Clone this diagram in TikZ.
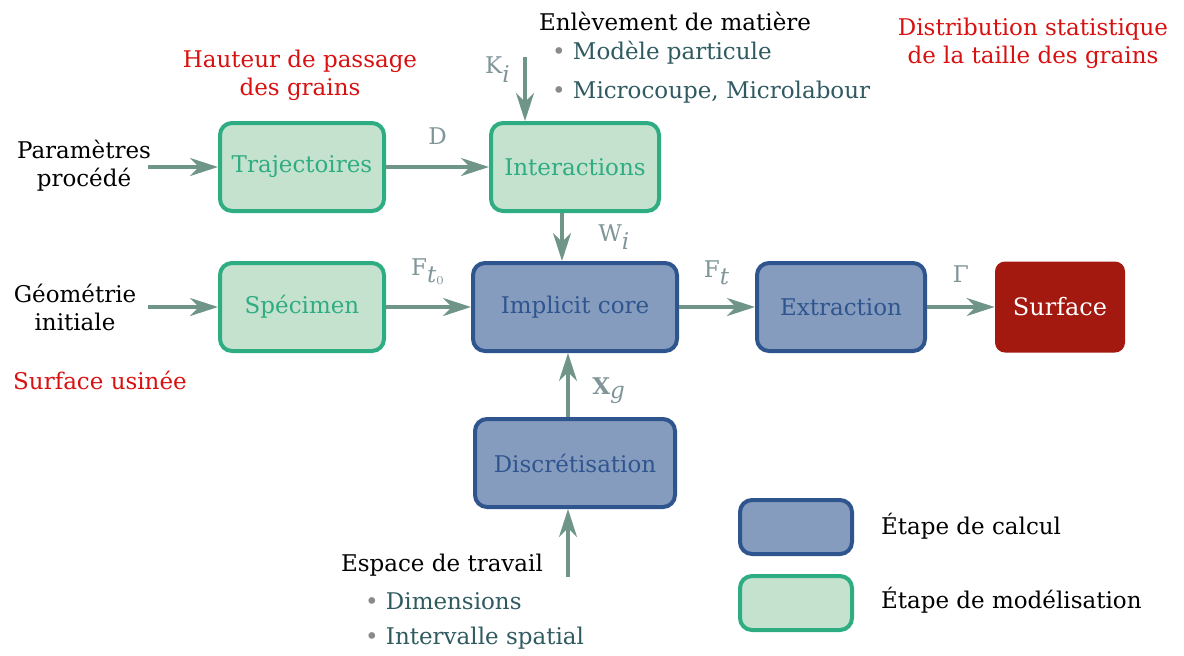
\documentclass[tikz,border=0pt]{standalone}
\usepackage{fontspec}
\setmainfont{DejaVu Serif}
\usetikzlibrary{arrows.meta}

\definecolor{calcfill}{HTML}{869CBF}
\definecolor{calcline}{HTML}{2F558F}
\definecolor{modfill}{HTML}{C5E2CF}
\definecolor{modline}{HTML}{2EAC82}
\definecolor{flowcol}{HTML}{6F9488}
\definecolor{labcol}{HTML}{7F9598}
\definecolor{notecol}{HTML}{D81010}
\definecolor{itemcol}{HTML}{2F5A60}
\definecolor{bulcol}{HTML}{8A8A8A}
\definecolor{surfcol}{HTML}{A3180F}

\newcommand{\itm}[1]{\textcolor{bulcol}{\textbullet}\ \textcolor{itemcol}{#1}}

\begin{document}
\begin{tikzpicture}[x=0.5pt,y=-0.5pt,
    every node/.style={font=\fontsize{11.5}{14}\selectfont},
    calcstep/.style={draw=calcline,fill=calcfill,line width=2pt,rounded corners=6pt,text=calcline,minimum height=44pt},
    modelstep/.style={draw=modline,fill=modfill,line width=2pt,rounded corners=6pt,text=modline,minimum height=44pt,minimum width=82pt},
    result/.style={fill=surfcol,rounded corners=5pt,text=white,minimum height=45.5pt,minimum width=65pt},
    flow/.style={draw=flowcol,line width=1.6pt,-{Stealth[length=14pt,width=9pt,inset=4.5pt]}},
    lab/.style={text=labcol},
    note/.style={text=notecol,align=center}
]
\useasboundingbox (0,0) rectangle (1184,655);

% steps
\node[modelstep] (traj) at (302,167) {Trajectoires};
\node[modelstep,minimum width=84pt] (inter) at (575,167) {Interactions};
\node[modelstep] (spec) at (302,307) {Spécimen};
\node[calcstep,minimum width=102pt] (core) at (575,307) {Implicit core};
\node[calcstep,minimum width=84pt] (extr) at (841,307) {Extraction};
\node[result] (surf) at (1060,307) {\fontsize{12}{14}\selectfont Surface};
\node[calcstep,minimum width=100pt] (discr) at (575,463) {Discrétisation};

% inputs
\node[align=center] (param) at (84,166) {Paramètres\\procédé};
\node[align=center] (geom) at (75,307) {Géométrie\\initiale};
\node (enlev) at (675,21) {Enlèvement de matière};
\node[anchor=west] (itemA) at (545,53) {\itm{Modèle particule}};
\node[anchor=west] (itemB) at (545,92) {\itm{Microcoupe, Microlabour}};
\node[anchor=west] (espace) at (334,565) {Espace de travail};
\node[anchor=west] (itemC) at (358,601) {\itm{Dimensions}};
\node[anchor=west] (itemD) at (358,638) {\itm{Intervalle spatial}};

% notes
\node[note] (hauteur) at (300,75) {Hauteur de passage\\des grains};
\node[note] (distrib) at (1033,43) {Distribution statistique\\de la taille des grains};
\node[note] (usinee) at (100,380) {Surface usinée};

% free ends
\coordinate (parin) at (148,167);
\coordinate (geoin) at (148,307);
\coordinate (kin) at (525,57);
\coordinate (win) at (562,167);
\coordinate (xin) at (568,463);
\coordinate (espin) at (568,577);

% connectors
\draw[flow] (parin) -- (traj);
\draw[flow] (geoin) -- (spec);
\draw[flow] (traj) -- (inter) node[lab,midway,above=7pt] (labD) {D};
\draw[flow] (kin) -- (kin |- inter.north) node[lab,pos=0.2,left=3pt] (labK) {K$_{\textit{i}}$};
\draw[flow] (win |- inter.south) -- (win |- core.north) node[lab,midway,right=14pt] (labW) {W$_{\textit{i}}$};
\draw[flow] (spec) -- (core) node[lab,midway,above=7pt] (labF0) {F$_{\textit{t}_0}$};
\draw[flow] (core) -- (extr) node[lab,midway,above=7pt] (labF) {F$_{\textit{t}}$};
\draw[flow] (extr) -- (surf) node[lab,midway,above=8pt] (labG) {Γ};
\draw[flow] (xin |- discr.north) -- (xin |- core.south) node[lab,midway,right=8pt,yshift=-3pt] (labX) {\textbf{X}$_{\textit{g}}$};
\draw[flow] (espin) -- (espin |- discr.south);

% legend
\node[calcstep,minimum width=56pt,minimum height=27pt] (legcalc) at (796,527) {};
\node[modelstep,minimum width=56pt,minimum height=27pt] (legmod) at (796,603) {};
\node[anchor=west] (txtcalc) at (874,526) {Étape de calcul};
\node[anchor=west] (txtmod) at (874,600) {Étape de modélisation};
\end{tikzpicture}
\end{document}
